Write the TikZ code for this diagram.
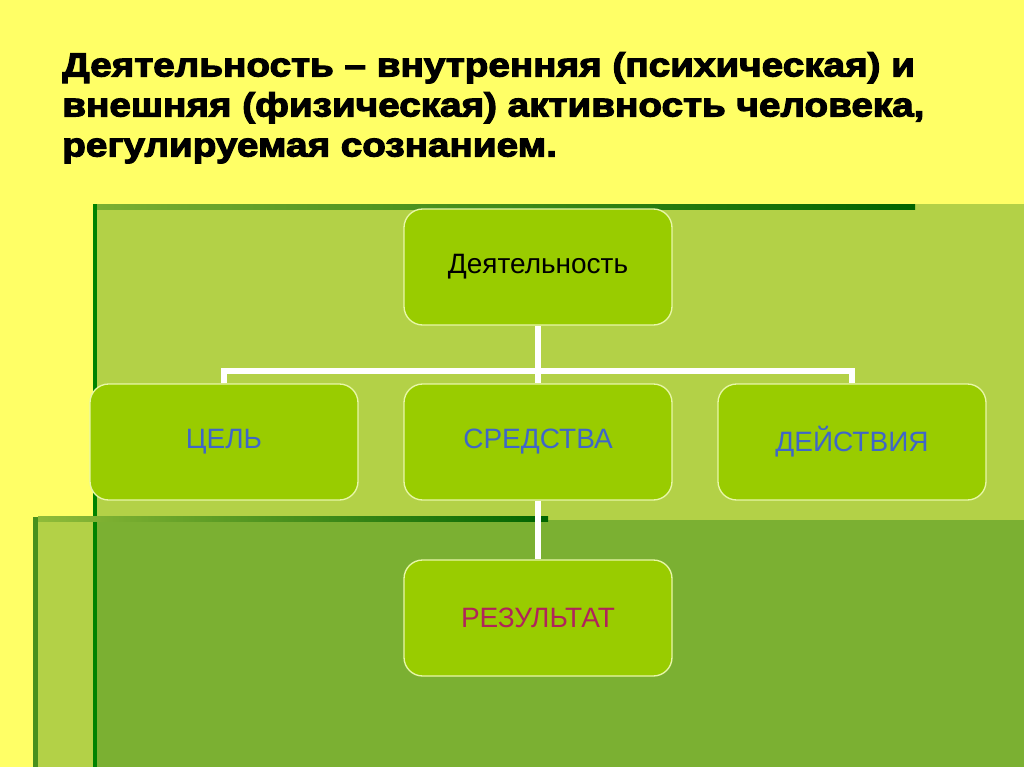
\documentclass[tikz,border=0pt]{standalone}
\usepackage{fontspec}
\setmainfont{Liberation Sans}
\newfontfamily\titlefont[FakeBold=3.5,FakeStretch=1.16]{Liberation Sans Bold}
\usetikzlibrary{positioning}

\definecolor{slideyellow}{HTML}{FFFF66}
\definecolor{lightgreen}{HTML}{B3D147}
\definecolor{midgreen}{HTML}{7BB032}
\definecolor{darkgreen}{HTML}{006400}
\definecolor{boxgreen}{HTML}{99CC00}
\definecolor{boxrim}{HTML}{E8F7A8}
\definecolor{celblue}{HTML}{3F66C8}
\definecolor{rezred}{HTML}{B0245A}

\tikzset{
  blok/.style={rectangle, rounded corners=14pt, fill=boxgreen, draw=boxrim,
    line width=1pt, minimum width=201pt, minimum height=87pt,
    font=\fontsize{21}{25}\selectfont},
  link/.style={draw=white, line width=5pt}
}

\begin{document}
\begin{tikzpicture}[x=0.75pt, y=-0.75pt]
					% Slide background and the green panels
					\useasboundingbox (0,0) rectangle (1024,767);
					\fill[slideyellow] (0,0) rectangle (1024,767);
					\fill[lightgreen] (93,204) rectangle (1024,767);
					\fill[lightgreen] (33,517) rectangle (93,767);
					\fill[midgreen] (97,520) rectangle (1024,767);
					\fill[darkgreen!80!green] (93,204) rectangle (97,767);
					\fill[darkgreen!60!lightgreen] (33,517) rectangle (38,767);
					\shade[left color=midgreen, right color=darkgreen] (97,204) rectangle (915,209);
					\shade[left color=lightgreen!80!darkgreen, right color=darkgreen] (38,516) rectangle (548,521);
					% Title
					\node[anchor=north west, align=left, inner sep=0pt,
					      font=\titlefont\fontsize{25}{30}\selectfont] (titel) at (62,52)
					      {Деятельность – внутренняя (психическая) и\\
					       внешняя (физическая) активность человека,\\
					       регулируемая сознанием.};
					% Then the boxes
					\foreach \pos/\name/\txt/\col in {{(538,267)/akt/Деятельность/black},
					                                  {(224,442)/cel/ЦЕЛЬ/celblue},
					                                  {(538,442)/sred/СРЕДСТВА/celblue},
					                                  {(852,442)/deist/ДЕЙСТВИЯ/celblue},
					                                  {(538,618)/rez/РЕЗУЛЬТАТ/rezred}}
						\node[blok, text=\col] (\name) at \pos {\txt};
					\coordinate (fork) at (538,371);
					% White connectors
					\path[link] (cel.north) |- (fork) -| (deist.north);
					\path[link] (akt) -- (sred);
					\path[link] (sred) -- (rez);
\end{tikzpicture}
\end{document}
